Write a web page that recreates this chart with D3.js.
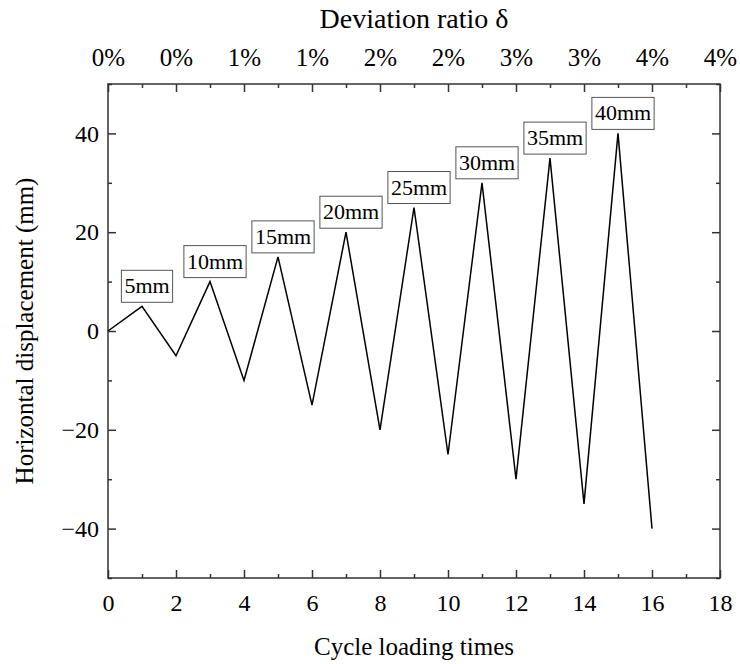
<!DOCTYPE html>
<html>
<head>
<meta charset="utf-8">
<script src="https://cdn.jsdelivr.net/npm/d3@7"></script>
<style>
  html, body { margin: 0; padding: 0; background: #fff; }
  svg { display: block; }
  text { font-family: "Liberation Serif", "Times New Roman", serif; fill: #000; }
</style>
</head>
<body>
<svg id="chart" width="740" height="664"></svg>
<script>
// ---- data ----
const cycles = [0, 1, 2, 3, 4, 5, 6, 7, 8, 9, 10, 11, 12, 13, 14, 15, 16];
const displacement = [0, 5, -5, 10, -10, 15, -15, 20, -20, 25, -25, 30, -30, 35, -35, 40, -40];
const peakLabels = ["5mm", "10mm", "15mm", "20mm", "25mm", "30mm", "35mm", "40mm"];
const peakCycles = [1, 3, 5, 7, 9, 11, 13, 15];
const peakValues = [5, 10, 15, 20, 25, 30, 35, 40];
const bottomTicks = [0, 2, 4, 6, 8, 10, 12, 14, 16, 18];
const topTickLabels = ["0%", "0%", "1%", "1%", "2%", "2%", "3%", "3%", "4%", "4%"];
const yTicks = [-40, -20, 0, 20, 40];
const yMinorTicks = [-50, -30, -10, 10, 30, 50];
const xMinorTicks = [1, 3, 5, 7, 9, 11, 13, 15, 17];

// ---- layout ----
const margin = { left: 108, right: 20, top: 84, bottom: 86 };
const W = 740, H = 664;
const svg = d3.select("#chart");
const x = d3.scaleLinear().domain([0, 18]).range([margin.left, W - margin.right]);
const y = d3.scaleLinear().domain([-50, 50]).range([H - margin.bottom, margin.top]);

const axisColor = "#333";
const tickFont = 24;
const majorLen = 8, minorLen = 4;

function styleAxis(g) {
  g.select(".domain").remove();
  g.selectAll(".tick line").attr("stroke", axisColor).attr("stroke-width", 1.5);
  g.selectAll(".tick text").style("font-size", tickFont + "px").attr("fill", "#000");
}

// bottom axis
svg.append("g").attr("transform", `translate(0,${y(-50)})`)
  .call(d3.axisBottom(x).tickValues(bottomTicks).tickFormat(d3.format("d")).tickSizeInner(-majorLen).tickSizeOuter(0).tickPadding(16))
  .call(styleAxis);
svg.append("g").attr("transform", `translate(0,${y(-50)})`)
  .call(d3.axisBottom(x).tickValues(xMinorTicks).tickFormat("").tickSizeInner(-minorLen).tickSizeOuter(0))
  .call(styleAxis);

// top axis
svg.append("g").attr("transform", `translate(0,${y(50)})`)
  .call(d3.axisTop(x).tickValues(bottomTicks).tickFormat((d, i) => topTickLabels[i]).tickSizeInner(-majorLen).tickSizeOuter(0).tickPadding(18))
  .call(styleAxis)
  .call(g => g.selectAll(".tick text").style("font-size", "25px"));
svg.append("g").attr("transform", `translate(0,${y(50)})`)
  .call(d3.axisTop(x).tickValues(xMinorTicks).tickFormat("").tickSizeInner(-minorLen).tickSizeOuter(0))
  .call(styleAxis);

// left axis
svg.append("g").attr("transform", `translate(${x(0)},0)`)
  .call(d3.axisLeft(y).tickValues(yTicks).tickFormat(d => d < 0 ? "\u2212" + Math.abs(d) : d).tickSizeInner(-majorLen).tickSizeOuter(0).tickPadding(9))
  .call(styleAxis);
svg.append("g").attr("transform", `translate(${x(0)},0)`)
  .call(d3.axisLeft(y).tickValues(yMinorTicks).tickFormat("").tickSizeInner(-minorLen).tickSizeOuter(0))
  .call(styleAxis);

// right axis
svg.append("g").attr("transform", `translate(${x(18)},0)`)
  .call(d3.axisRight(y).tickValues(yTicks).tickFormat("").tickSizeInner(-majorLen).tickSizeOuter(0))
  .call(styleAxis);
svg.append("g").attr("transform", `translate(${x(18)},0)`)
  .call(d3.axisRight(y).tickValues(yMinorTicks).tickFormat("").tickSizeInner(-minorLen).tickSizeOuter(0))
  .call(styleAxis);

// frame
svg.append("rect")
  .attr("x", x(0)).attr("y", y(50))
  .attr("width", x(18) - x(0)).attr("height", y(-50) - y(50))
  .attr("fill", "none").attr("stroke", axisColor).attr("stroke-width", 1.5);

// line
const pts = cycles.map((c, i) => [c, displacement[i]]);
svg.append("path")
  .datum(pts)
  .attr("fill", "none").attr("stroke", "#000").attr("stroke-width", 1.5)
  .attr("stroke-linejoin", "miter")
  .attr("d", d3.line().x(d => x(d[0])).y(d => y(d[1])));

// annotations
const annFont = 22;
peakLabels.forEach((lab, i) => {
  const cx = x(peakCycles[i]) + 5;
  const bottom = y(peakValues[i]) - 4;
  const g = svg.append("g");
  const t = g.append("text")
    .attr("x", cx).attr("y", bottom - 9)
    .attr("text-anchor", "middle")
    .style("font-size", annFont + "px")
    .text(lab);
  const bb = t.node().getBBox();
  g.insert("rect", "text")
    .attr("x", bb.x - 3).attr("y", bottom - 32)
    .attr("width", bb.width + 6).attr("height", 32)
    .attr("fill", "#fff").attr("stroke", "#555").attr("stroke-width", 1);
});

// titles
svg.append("text")
  .attr("x", (x(0) + x(18)) / 2).attr("y", 655)
  .attr("text-anchor", "middle")
  .style("font-size", "25px")
  .text("Cycle loading times");

svg.append("text")
  .attr("x", (x(0) + x(18)) / 2).attr("y", 28)
  .attr("text-anchor", "middle")
  .style("font-size", "28px")
  .text("Deviation ratio \u03b4");

svg.append("text")
  .attr("transform", `translate(33,${(y(50) + y(-50)) / 2}) rotate(-90)`)
  .attr("text-anchor", "middle")
  .style("font-size", "25px")
  .text("Horizontal displacement (mm)");
</script>
</body>
</html>
